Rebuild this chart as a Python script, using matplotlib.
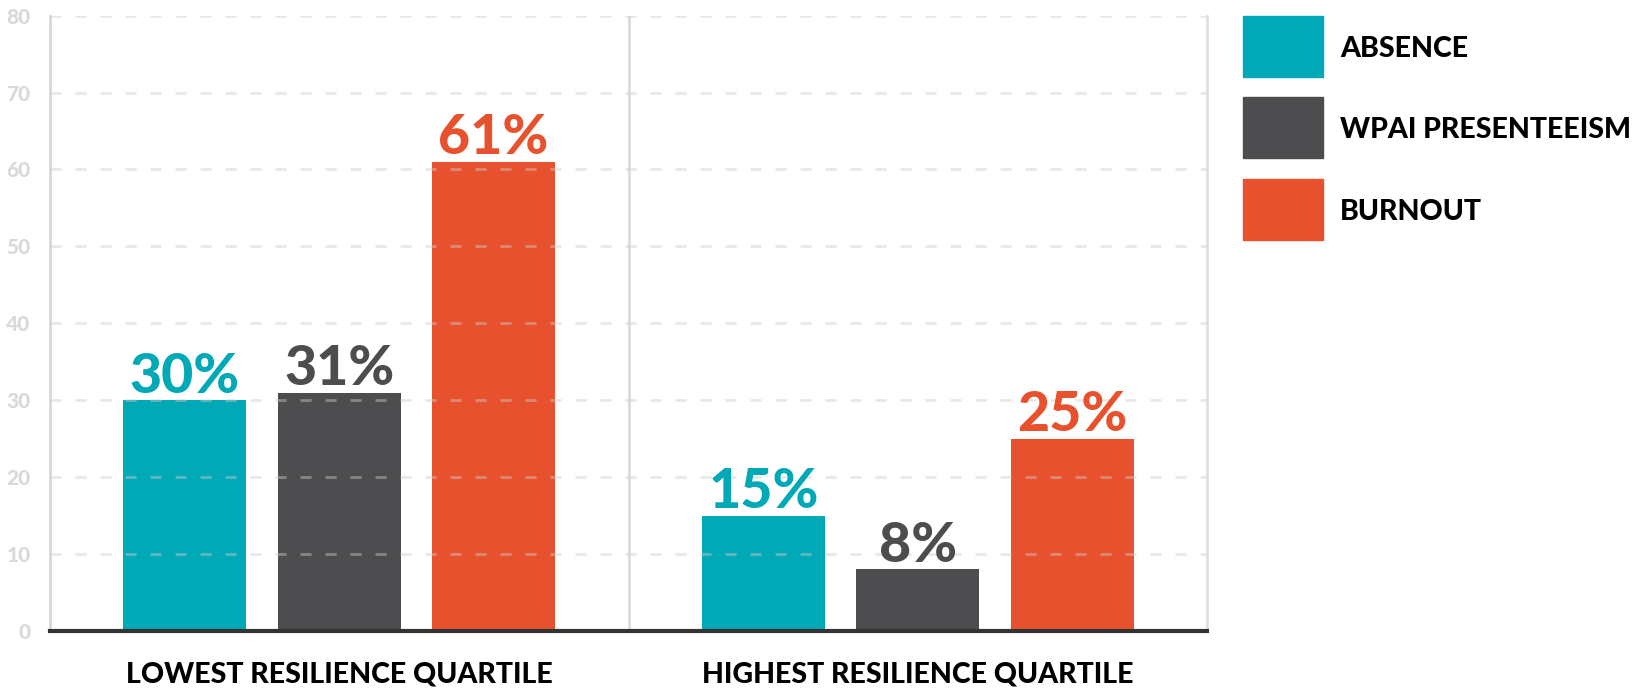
import numpy as np
import matplotlib.pyplot as plt
from matplotlib.patches import Rectangle

# data
groups = ["LOWEST RESILIENCE QUARTILE", "HIGHEST RESILIENCE QUARTILE"]
series = ["ABSENCE", "WPAI PRESENTEEISM", "BURNOUT"]
absence = [30, 15]
presenteeism = [31, 8]
burnout = [61, 25]
colors = ["#00a9b5", "#4d4d4f", "#e8512d"]
yticks = [0, 10, 20, 30, 40, 50, 60, 70, 80]

plt.rcParams["font.family"] = ["Lato", "DejaVu Sans"]
plt.rcParams["font.weight"] = "heavy"

fig = plt.figure(figsize=(16.35, 6.91), dpi=100)
ax = fig.add_axes([50 / 1635, 1 - 631 / 691, (1207 - 50) / 1635, (631 - 15.6) / 691])

x = np.arange(len(groups))
width = 0.2126
step = 0.2667
values = [absence, presenteeism, burnout]

for i, (vals, col) in enumerate(zip(values, colors)):
    pos = x + (i - 1) * step
    ax.bar(pos, vals, width, color=col, zorder=2)
    for p, v in zip(pos, vals):
        ax.text(p, v + 1.0, f"{v}%", ha="center", va="baseline", color=col,
                fontsize=40, fontweight="black", zorder=4)

ax.set_xlim(-0.5, 1.5)
ax.set_ylim(0, 80)
ax.set_yticks(yticks)
ax.set_yticklabels([str(t) for t in yticks], fontweight="black")
ax.tick_params(axis="y", length=0, pad=14, labelsize=15, labelcolor="#d9d9d9")
ax.tick_params(axis="x", length=0, pad=22)
ax.set_xticks(x)
ax.set_xticklabels(groups, fontsize=20.5, fontweight="black", color="black")

# dashed grid drawn over the bars, faint
for t in yticks[1:]:
    ax.axhline(t, color="#cccccc", alpha=0.45, lw=2, ls=(0, (4, 5)), zorder=3)

ax.axvline(0.5, color="#dcdcdc", lw=2, zorder=1)

ax.spines["top"].set_visible(False)
ax.spines["left"].set_color("#d8d8d8")
ax.spines["left"].set_linewidth(2)
ax.spines["right"].set_color("#e0e0e0")
ax.spines["right"].set_linewidth(2)
ax.spines["bottom"].set_color("#333333")
ax.spines["bottom"].set_linewidth(3)
ax.spines["bottom"].set_zorder(5)

# legend, drawn by hand in figure pixels
W, H = 1635, 691
box_tops = [15.6, 97, 179]
for name, col, top in zip(series, colors, box_tops):
    fig.patches.append(Rectangle((1243 / W, 1 - (top + 61) / H), 80 / W, 61 / H,
                                 transform=fig.transFigure, color=col))
    fig.text(1340 / W, 1 - (top + 33) / H, name, fontsize=20.5, fontweight="black",
             va="center", ha="left", color="black")

fig.savefig("out.png", dpi=100, facecolor="white")
